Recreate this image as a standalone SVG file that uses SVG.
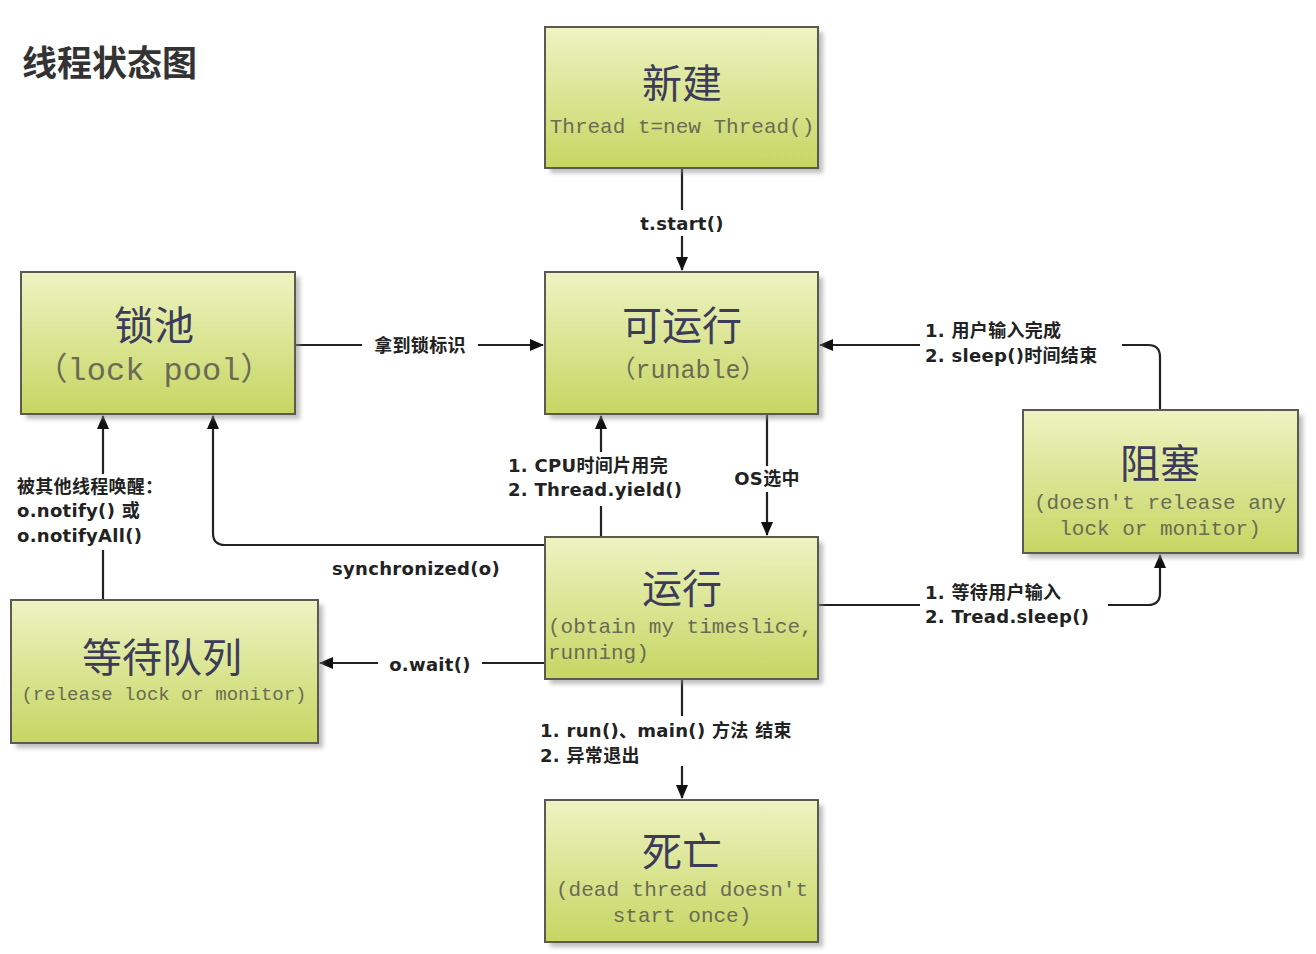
<svg xmlns="http://www.w3.org/2000/svg" width="1316" height="954" viewBox="0 0 1316 954">
<style>
.box{fill:url(#g);stroke:#5a5a50;stroke-width:2}
.sh{fill:#8a8a8a;opacity:.55;filter:url(#blur)}
.t{font-family:"Noto Sans CJK SC",sans-serif;font-size:40px;fill:#3c3c5a;text-anchor:middle}
.m{font-family:"Liberation Mono","Noto Sans CJK SC",monospace;fill:#6b6b55}
.mc{text-anchor:middle}
.l{font-family:"DejaVu Sans","Noto Sans CJK SC",sans-serif;font-weight:bold;font-size:18px;fill:#222;letter-spacing:0.3px}
.lc{text-anchor:middle}
.c{fill:none;stroke:#222;stroke-width:2.2}
.bg{fill:#fff}
</style>
<defs>
<linearGradient id="g" x1="0" y1="0" x2="0" y2="1">
<stop offset="0" stop-color="#eef3c2"/>
<stop offset="1" stop-color="#c6d662"/>
</linearGradient>
<filter id="blur" x="-10%" y="-10%" width="120%" height="120%"><feGaussianBlur stdDeviation="2"/></filter>
<marker id="a" viewBox="0 0 14 12" refX="13" refY="6" markerWidth="14" markerHeight="12" markerUnits="userSpaceOnUse" orient="auto"><path d="M0,0 L14,6 L0,12 z" fill="#111"/></marker>
</defs>
<rect width="1316" height="954" fill="#fff"/>
<text x="22" y="76" font-family="Noto Sans CJK SC,sans-serif" font-weight="bold" font-size="35" fill="#333">线程状态图</text>

<g id="connectors">
<path class="c" d="M682,168 V270" marker-end="url(#a)"/>
<path class="c" d="M295,345 H543" marker-end="url(#a)"/>
<path class="c" d="M1160,410 V357 Q1160,345 1148,345 H820" marker-end="url(#a)"/>
<path class="c" d="M818,605 H1148 Q1160,605 1160,593 V555" marker-end="url(#a)"/>
<path class="c" d="M601,537 V416" marker-end="url(#a)"/>
<path class="c" d="M767,414 V535" marker-end="url(#a)"/>
<path class="c" d="M545,545 H225 Q213,545 213,533 V416" marker-end="url(#a)"/>
<path class="c" d="M545,663 H320" marker-end="url(#a)"/>
<path class="c" d="M103,600 V416" marker-end="url(#a)"/>
<path class="c" d="M682,679 V798" marker-end="url(#a)"/>
<rect class="bg" x="630" y="210" width="104" height="26"/>
<text class="l lc" x="682" y="230">t.start()</text>
<rect class="bg" x="362" y="333" width="116" height="26"/>
<text class="l lc" x="420" y="352">拿到锁标识</text>
<rect class="bg" x="920" y="318" width="202" height="50"/>
<text class="l" x="925" y="337">1. 用户输入完成</text>
<text class="l" x="925" y="362">2. sleep()时间结束</text>
<rect class="bg" x="920" y="580" width="188" height="50"/>
<text class="l" x="925" y="599">1. 等待用户输入</text>
<text class="l" x="925" y="623">2. Tread.sleep()</text>
<rect class="bg" x="504" y="452" width="196" height="54"/>
<text class="l" x="508" y="472">1. CPU时间片用完</text>
<text class="l" x="508" y="496">2. Thread.yield()</text>
<rect class="bg" x="726" y="466" width="84" height="26"/>
<text class="l lc" x="767" y="485">OS选中</text>
<text class="l lc" x="416" y="575">synchronized(o)</text>
<rect class="bg" x="378" y="652" width="104" height="24"/>
<text class="l lc" x="430" y="671">o.wait()</text>
<rect class="bg" x="14" y="474" width="175" height="76"/>
<text class="l" x="17" y="493">被其他线程唤醒：</text>
<text class="l" x="17" y="517">o.notify() 或</text>
<text class="l" x="17" y="542">o.notifyAll()</text>
<rect class="bg" x="536" y="716" width="294" height="50"/>
<text class="l" x="540" y="737">1. run()、main() 方法 结束</text>
<text class="l" x="540" y="762">2. 异常退出</text>
</g>

<g id="node-new">
<rect class="sh" x="550" y="32" width="273" height="141"/>
<rect class="box" x="545" y="27" width="273" height="141"/>
<text class="t" x="682" y="98">新建</text>
<text class="m mc" x="682" y="133" font-size="21">Thread t=new Thread()</text>
</g>

<g id="node-lockpool">
<rect class="sh" x="26" y="277" width="274" height="142"/>
<rect class="box" x="21" y="272" width="274" height="142"/>
<text class="t" x="154" y="340">锁池</text>
<text class="m mc" x="154" y="380" font-size="32">（lock pool）</text>
</g>

<g id="node-runnable">
<rect class="sh" x="550" y="277" width="273" height="142"/>
<rect class="box" x="545" y="272" width="273" height="142"/>
<text class="t" x="682" y="340">可运行</text>
<text class="m mc" x="688" y="378" font-size="25">（runable）</text>
</g>

<g id="node-blocked">
<rect class="sh" x="1028" y="415" width="275" height="143"/>
<rect class="box" x="1023" y="410" width="275" height="143"/>
<text class="t" x="1160" y="478">阻塞</text>
<text class="m mc" x="1160" y="509" font-size="21">(doesn't release any</text>
<text class="m mc" x="1160" y="535" font-size="21">lock or monitor)</text>
</g>

<g id="node-running">
<rect class="sh" x="550" y="542" width="273" height="142"/>
<rect class="box" x="545" y="537" width="273" height="142"/>
<text class="t" x="682" y="603">运行</text>
<text class="m" x="548" y="633" font-size="21">(obtain my timeslice,</text>
<text class="m" x="548" y="659" font-size="21">running)</text>
</g>

<g id="node-waiting">
<rect class="sh" x="16" y="605" width="307" height="143"/>
<rect class="box" x="11" y="600" width="307" height="143"/>
<text class="t" x="162" y="672" font-size="42">等待队列</text>
<text class="m mc" x="164" y="700" font-size="19">(release lock or monitor)</text>
</g>

<g id="node-dead">
<rect class="sh" x="550" y="805" width="273" height="142"/>
<rect class="box" x="545" y="800" width="273" height="142"/>
<text class="t" x="682" y="866">死亡</text>
<text class="m mc" x="682" y="896" font-size="21">(dead thread doesn't</text>
<text class="m mc" x="682" y="922" font-size="21">start once)</text>
</g>
</svg>
